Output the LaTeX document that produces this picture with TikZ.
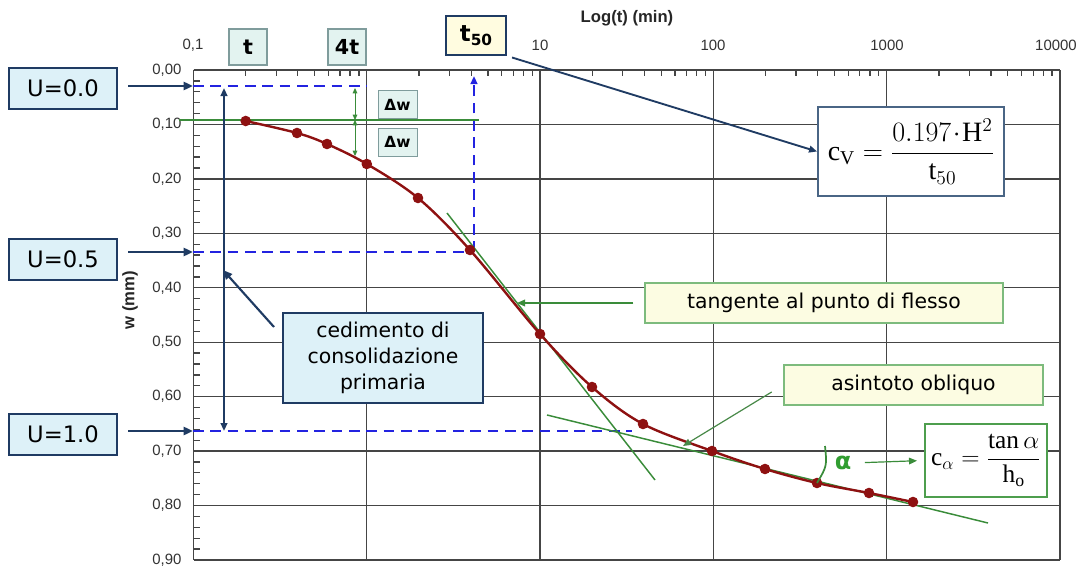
\documentclass[tikz,border=0pt]{standalone}
\usepackage{fix-cm}
\usepackage{amsmath}
\usepackage{fontspec}
\setmainfont{Liberation Serif}
\newfontfamily\dv{DejaVu Sans}
\newfontfamily\ar{Liberation Sans}
\usetikzlibrary{arrows.meta,calc}
\definecolor{navy}{HTML}{1F3B63}
\definecolor{lightblue}{HTML}{DDF1F8}
\definecolor{palecyan}{HTML}{E3F3F0}
\definecolor{tealgray}{HTML}{7F9C9C}
\definecolor{paleyellow}{HTML}{FCFCE2}
\definecolor{t50fill}{HTML}{FFFCE0}
\definecolor{boxgreen}{HTML}{7DBB7D}
\definecolor{cagreen}{HTML}{4E9E4E}
\definecolor{lgreen}{HTML}{3A8C3A}
\definecolor{dblue}{HTML}{2323E0}
\definecolor{dred}{HTML}{8E1111}
\definecolor{gridc}{HTML}{454545}
\definecolor{slate}{HTML}{4A6585}
\begin{document}
\begin{tikzpicture}[x=0.75pt,y=-0.75pt,
  grid/.style={gridc, line width=0.95pt},
  lab/.style={font=\ar\fontsize{11.2}{13}\selectfont, text=black!80, inner sep=1pt},
  axt/.style={font=\ar\bfseries\fontsize{12.5}{14}\selectfont, text=black!85, inner sep=1pt},
  ubox/.style={draw=navy, line width=1.5pt, fill=lightblue, minimum width=81pt, minimum height=30.75pt, inner sep=0pt, font=\dv\fontsize{17}{20}\selectfont},
  tbox/.style={draw=tealgray, line width=0.8pt, fill=palecyan, inner sep=0pt, minimum width=28.5pt, minimum height=27pt, font=\dv\bfseries\fontsize{15.5}{18}\selectfont},
  dbox/.style={draw=tealgray, line width=0.7pt, fill=palecyan, inner sep=0pt, minimum width=29.25pt, minimum height=21pt, font=\dv\bfseries\fontsize{11.5}{13}\selectfont},
  gbox/.style={draw=boxgreen, line width=1.3pt, fill=paleyellow, inner sep=0pt, minimum height=30pt, font=\dv\fontsize{15.3}{18}\selectfont},
  cbox/.style={draw=navy, line width=1.5pt, fill=lightblue, inner sep=0pt, minimum width=150pt, minimum height=67.5pt, align=center, font=\dv\fontsize{15.3}{19.5}\selectfont},
  arr/.style={navy, line width=1.8pt, -{Triangle[length=7pt,width=6pt]}},
  thinarr/.style={navy, line width=1.4pt, -{Triangle[length=6pt,width=5pt]}},
  garr/.style={lgreen, line width=0.9pt, -{Triangle[length=6pt,width=5pt]}},
  gboth/.style={lgreen, line width=0.7pt, {Triangle[length=4pt,width=3.5pt]}-{Triangle[length=4pt,width=3.5pt]}},
  bdash/.style={dblue, line width=2.2pt, dash pattern=on 8pt off 5pt},
  tline/.style={lgreen, line width=1.1pt},
  curve/.style={dred, line width=1.8pt},
]
\useasboundingbox (0,0) rectangle (1086,571);
\fill[white] (0,0) rectangle (1086,571);

% grid
\foreach \k in {0,...,5} \draw[grid] ({193.5+173.3*\k},70) -- ({193.5+173.3*\k},560);
\foreach \k in {0,...,9} \draw[grid] (193.5,{70+54.44*\k}) -- (1060,{70+54.44*\k});
\foreach \d in {0,...,4} \foreach \m in {2,...,9} \draw[grid] ({193.5+173.3*(\d+log10(\m))},70) -- ++(0,6);
\foreach \k in {0,...,44} \draw[grid] (193.5,{70+10.888*\k}) -- ++(6,0);

% axis labels
\foreach \k in {0,...,9} \node[lab, anchor=east] (yl\k) at (183,{70+54.44*\k}) {0,\k0};
\node[lab] (xl0) at (193,45) {0,1};
\node[lab] (xl2) at (540,45) {10};
\node[lab] (xl3) at (713,45) {100};
\node[lab] (xl4) at (887,45) {1000};
\node[lab] (xl5) at (1056,45) {10000};
\node[axt] (xt) at (627,18) {Log(t) (min)};
\node[axt, rotate=90] (yt) at (130,300) {w (mm)};

% dashed construction lines
\coordinate (a0) at (193,86);
\coordinate (a5) at (193,252);
\coordinate (a1) at (193,431);
\coordinate (p50) at (474,252);
\coordinate (top50) at (474,76);
\coordinate (e0) at (367,86);
\coordinate (e1) at (632,431);
\draw[bdash] (a0) -- (e0);
\draw[bdash] (a5) -- (p50);
\draw[bdash, -{Triangle[length=6pt,width=5pt]}] (p50) -- (top50);
\draw[bdash] (a1) -- (e1);

% tangent & asymptote
\coordinate (tg1) at (447,213); \coordinate (tg2) at (655,480);
\coordinate (as1) at (547,415); \coordinate (as2) at (988,523);
\draw[tline] (tg1) -- (tg2);
\draw[tline] (as1) -- (as2);

% green reference line and delta w
\coordinate (gl1) at (179,120); \coordinate (gl2) at (479,120);
\draw[lgreen, line width=1.6pt] (gl1) -- (gl2);
\coordinate (dwa) at (355,88); \coordinate (dwb) at (355,120); \coordinate (dwc) at (355,156);
\draw[gboth] (dwa) -- (dwb);
\draw[gboth] (dwb) -- (dwc);
\node[dbox] (dw1) at (397.5,104.5) {Δw};
\node[dbox] (dw2) at (397.5,142) {Δw};

% curve
\draw[curve] plot[smooth, tension=0.55] coordinates {(245.7,121) (297,133) (327,144) (366.8,164) (418,198) (470,250) (540,334) (592,387) (643,424) (712,451) (765,469) (817,483) (869,493) (913,502)};
\foreach \p in {(245.7,121),(297,133),(327,144),(366.8,164),(418,198),(470,250),(540,334),(592,387),(643,424),(712,451),(765,469),(817,483),(869,493),(913,502)}
  \fill[dred] \p circle (5.3);

% vertical consolidation arrow
\coordinate (vt) at (224,88); \coordinate (vb) at (224,431);
\draw[navy, line width=1.8pt, {Triangle[length=6pt,width=5pt]}-{Triangle[length=6pt,width=5pt]}] (vt) -- (vb);

% U boxes
\node[ubox] (u0) at (63,88) {U=0.0};
\node[ubox] (u5) at (63,259) {U=0.5};
\node[ubox] (u1) at (63,434) {U=1.0};
\draw[arr, shorten <=7.5pt] (u0.east |- a0) -- (a0);
\draw[arr, shorten <=7.5pt] (u5.east |- a5) -- (a5);
\draw[arr, shorten <=7.5pt] (u1.east |- a1) -- (a1);

% cedimento
\node[cbox] (ced) at (383,358) {cedimento di\\consolidazione\\primaria};
\coordinate (ct) at (223,270);
\draw[arr, line width=1.6pt] ($(ced.north west)+(-8,15)$) -- (ct);

% top boxes
\node[tbox] (tt) at (248,47) {t};
\node[tbox] (t4) at (347,47) {4t};
\node[draw=navy, line width=1.4pt, fill=t50fill, inner sep=0pt, minimum width=45pt, minimum height=29.25pt, font=\dv\bfseries\fontsize{17}{20}\selectfont] (t50) at (476,35.5) {t\raisebox{-0.3ex}{\fontsize{11.5}{12}\selectfont 50}};

% cv box
\node[draw=slate, line width=1.4pt, fill=white, inner sep=0pt, minimum width=139.5pt, minimum height=66.75pt, font=\fontsize{21}{25}\selectfont] (cv) at (911,151.5) {$\mathrm{c}_{\mathrm{V}}=\dfrac{0.197\!\cdot\!\mathrm{H}^{2}}{\mathrm{t}_{50}}$};
\draw[thinarr, shorten <=4pt] (t50.south east) -- (cv.west);

% tangente / asintoto
\node[gbox, minimum width=268.5pt] (tg) at (824,303) {tangente al punto di flesso};
\coordinate (tgp) at (517,303);
\draw[garr, shorten <=8pt] (tg.west) -- (tgp);
\node[gbox, minimum width=194.25pt] (as) at (913.5,385) {asintoto obliquo};
\coordinate (asp) at (683,446);
\draw[garr, lgreen!80!gray, shorten <=10pt] (as.west) -- (asp);

% c alpha
\node[draw=cagreen, line width=2pt, fill=white, inner sep=0pt, minimum width=91.5pt, minimum height=54.75pt, font=\fontsize{19}{23}\selectfont] (ca) at (986,460.5) {$\mathrm{c}_{\alpha}=\dfrac{\tan\alpha}{\mathrm{h}_{\mathrm{o}}}$};
\node[text=lgreen!85!green, font=\dv\bfseries\fontsize{18}{20}\selectfont, inner sep=1pt] (al) at (843,463) {α};
\draw[garr, shorten <=9pt, shorten >=5pt] (al.east) -- (ca.west);
\coordinate (arc1) at (825,446); \coordinate (arc2) at (817,483);
\draw[tline, line width=1.3pt] (arc1) .. controls (827,466) .. (arc2);
\end{tikzpicture}
\end{document}
